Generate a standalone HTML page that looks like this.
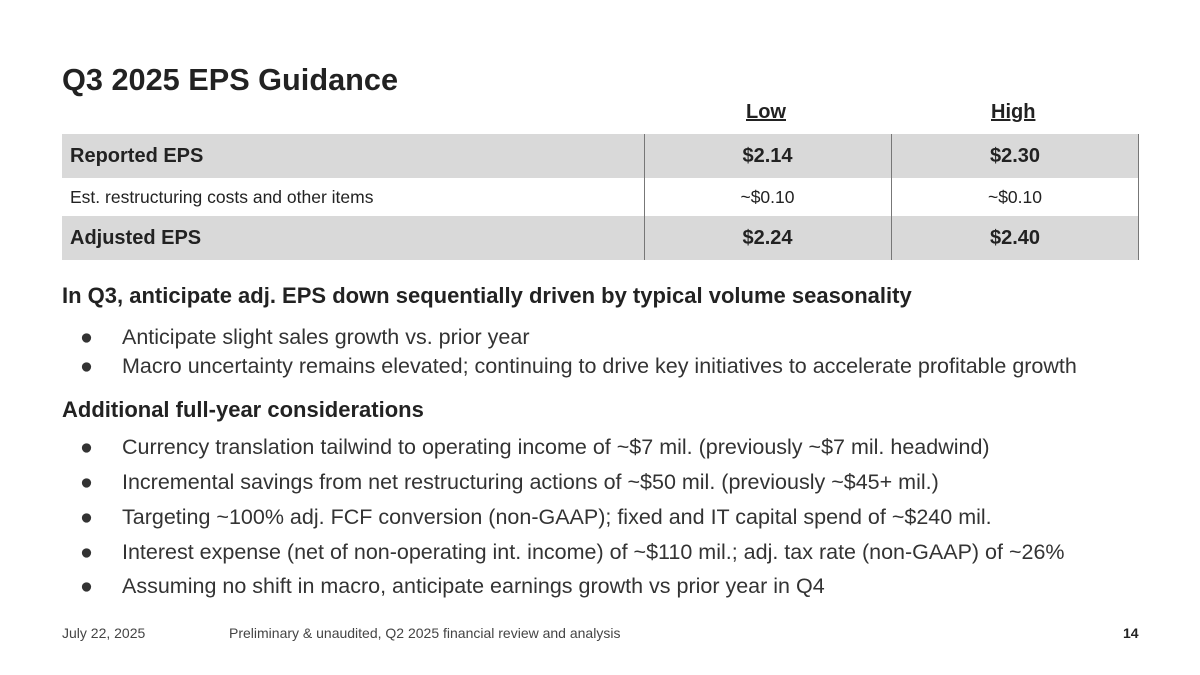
<!DOCTYPE html>
<html><head><meta charset="utf-8"><style>
body{margin:0;width:1200px;height:675px;background:#fff;font-family:"Liberation Sans",sans-serif;color:#222;position:relative;overflow:hidden}
.a{position:absolute;white-space:nowrap;line-height:1.15}
h1{position:absolute;left:62px;top:62px;margin:0;font-size:30.7px;font-weight:bold;color:#222}
.row{position:absolute;left:62px;width:1077px}
.grey{background:#d9d9d9}
.c{position:absolute;text-align:center;line-height:1.15}
.v{position:absolute;top:134px;width:1px;height:126px;background:#777}
.b{position:absolute;left:80px;font-size:21.5px;color:#333}
.b span{position:absolute;left:42px}
.h{position:absolute;left:62px;font-size:22px;font-weight:bold;color:#222}
</style></head><body>
<h1>Q3 2025 EPS Guidance</h1>
<div class="a" style="left:746px;top:101px;font-size:20px;font-weight:bold;text-decoration:underline">Low</div>
<div class="a" style="left:991px;top:101px;font-size:20px;font-weight:bold;text-decoration:underline">High</div>
<div class="row grey" style="top:134px;height:44px">
 <div class="a" style="left:8px;top:11px;font-size:20px;font-weight:bold">Reported EPS</div>
 <div class="c" style="left:582px;width:247px;top:11px;font-size:20px;font-weight:bold">$2.14</div>
 <div class="c" style="left:829px;width:248px;top:11px;font-size:20px;font-weight:bold">$2.30</div>
</div>
<div class="row" style="top:178px;height:38px">
 <div class="a" style="left:8px;top:9px;font-size:17.5px">Est. restructuring costs and other items</div>
 <div class="c" style="left:582px;width:247px;top:9px;font-size:17.5px">~$0.10</div>
 <div class="c" style="left:829px;width:248px;top:9px;font-size:17.5px">~$0.10</div>
</div>
<div class="row grey" style="top:216px;height:44px">
 <div class="a" style="left:8px;top:11px;font-size:20px;font-weight:bold">Adjusted EPS</div>
 <div class="c" style="left:582px;width:247px;top:11px;font-size:20px;font-weight:bold">$2.24</div>
 <div class="c" style="left:829px;width:248px;top:11px;font-size:20px;font-weight:bold">$2.40</div>
</div>
<div class="v" style="left:644px"></div><div class="v" style="left:891px"></div><div class="v" style="left:1138px"></div>
<div class="h a" style="top:283px">In Q3, anticipate adj. EPS down sequentially driven by typical volume seasonality</div>
<div class="b a" style="top:325px">●<span>Anticipate slight sales growth vs. prior year</span></div>
<div class="b a" style="top:354px">●<span>Macro uncertainty remains elevated; continuing to drive key initiatives to accelerate profitable growth</span></div>
<div class="h a" style="top:397px">Additional full-year considerations</div>
<div class="b a" style="top:435px">●<span>Currency translation tailwind to operating income of ~$7 mil. (previously ~$7 mil. headwind)</span></div>
<div class="b a" style="top:470px">●<span>Incremental savings from net restructuring actions of ~$50 mil. (previously ~$45+ mil.)</span></div>
<div class="b a" style="top:505px">●<span>Targeting ~100% adj. FCF conversion (non-GAAP); fixed and IT capital spend of ~$240 mil.</span></div>
<div class="b a" style="top:540px">●<span>Interest expense (net of non-operating int. income) of ~$110 mil.; adj. tax rate (non-GAAP) of ~26%</span></div>
<div class="b a" style="top:574px">●<span>Assuming no shift in macro, anticipate earnings growth vs prior year in Q4</span></div>
<div class="a" style="left:62px;top:625px;font-size:14px;color:#444">July 22, 2025</div>
<div class="a" style="left:229px;top:625px;font-size:14px;color:#444">Preliminary &amp; unaudited, Q2 2025 financial review and analysis</div>
<div class="a" style="left:1123px;top:625px;font-size:14px;font-weight:bold;color:#222">14</div>
</body></html>
